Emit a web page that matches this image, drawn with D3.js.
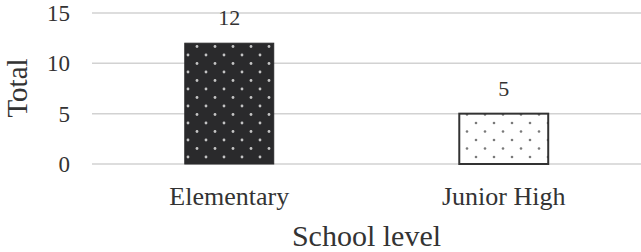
<!DOCTYPE html>
<html>
<head>
<meta charset="utf-8">
<script src="https://cdn.jsdelivr.net/npm/d3@7"></script>
<style>
  body { margin: 0; background: #fff; }
  text { font-family: "Liberation Serif", "Times New Roman", serif; fill: #333; }
</style>
</head>
<body>
<div id="chart"></div>
<script>
// data
var categories = ["Elementary", "Junior High"];
var totals = [12, 5];
var yTicks = [0, 5, 10, 15];

var total_width = 641,
    total_height = 252;

var margin = {top: 13, right: 0, bottom: 88, left: 92},
    width = total_width - margin.left - margin.right,
    height = total_height - margin.top - margin.bottom;

var svg = d3.select("#chart").append("svg")
    .attr("width", total_width)
    .attr("height", total_height);

// dot patterns for the two bars
var defs = svg.append("defs");
function dotPattern(id, bg, dot, r) {
  var p = defs.append("pattern")
      .attr("id", id)
      .attr("patternUnits", "userSpaceOnUse")
      .attr("width", 18)
      .attr("height", 17)
      .attr("x", 0)
      .attr("y", 4);
  p.append("rect").attr("width", 18).attr("height", 17).attr("fill", bg);
  p.append("circle").attr("cx", 6).attr("cy", 4).attr("r", r).attr("fill", dot);
  p.append("circle").attr("cx", 15).attr("cy", 12.5).attr("r", r).attr("fill", dot);
}
dotPattern("dots-dark", "#2a2a2c", "#c4c4c4", 1.4);
dotPattern("dots-light", "#ffffff", "#7a7a7a", 1.3);

var g = svg.append("g")
    .attr("transform", "translate(" + margin.left + "," + margin.top + ")");

var x = d3.scaleBand()
    .domain(categories)
    .range([0, width])
    .paddingInner(0.676)
    .paddingOuter(0.338);

var y = d3.scaleLinear()
    .domain([0, 15])
    .range([height, 0]);

// gridlines
g.append("g")
  .selectAll("line")
  .data(yTicks)
  .enter()
  .append("line")
    .attr("x1", 0)
    .attr("x2", width)
    .attr("y1", d => y(d))
    .attr("y2", d => y(d))
    .attr("stroke", "#d2d2d2")
    .attr("stroke-width", 1.5);

// y tick labels
g.append("g")
  .selectAll("text")
  .data(yTicks)
  .enter()
  .append("text")
    .attr("x", -22)
    .attr("y", d => y(d))
    .attr("dy", "0.35em")
    .attr("text-anchor", "end")
    .style("font-size", "23px")
    .text(d => d);

// bars
g.append("g")
  .selectAll("rect")
  .data(totals)
  .enter()
  .append("rect")
    .attr("x", (d, i) => x(categories[i]))
    .attr("y", d => y(d))
    .attr("width", x.bandwidth())
    .attr("height", d => y(0) - y(d))
    .attr("fill", (d, i) => i == 0 ? "url(#dots-dark)" : "url(#dots-light)")
    .attr("stroke", (d, i) => i == 0 ? "#2a2a2c" : "#333")
    .attr("stroke-width", (d, i) => i == 0 ? 1 : 2);

// value labels
g.append("g")
  .selectAll("text")
  .data(totals)
  .enter()
  .append("text")
    .attr("x", (d, i) => x(categories[i]) + x.bandwidth() / 2)
    .attr("y", d => y(d) - 18)
    .attr("text-anchor", "middle")
    .style("font-size", "22px")
    .text(d => d);

// category labels
g.append("g")
  .selectAll("text")
  .data(categories)
  .enter()
  .append("text")
    .attr("x", d => x(d) + x.bandwidth() / 2)
    .attr("y", height + 41)
    .attr("text-anchor", "middle")
    .style("font-size", "26px")
    .text(d => d);

// axis titles
svg.append("text")
    .attr("x", margin.left + width / 2 - 0)
    .attr("y", 246)
    .attr("text-anchor", "middle")
    .style("font-size", "30px")
    .text("School level");

svg.append("text")
    .attr("transform", "translate(27,88) rotate(-90)")
    .attr("text-anchor", "middle")
    .style("font-size", "29px")
    .text("Total");
</script>
</body>
</html>
